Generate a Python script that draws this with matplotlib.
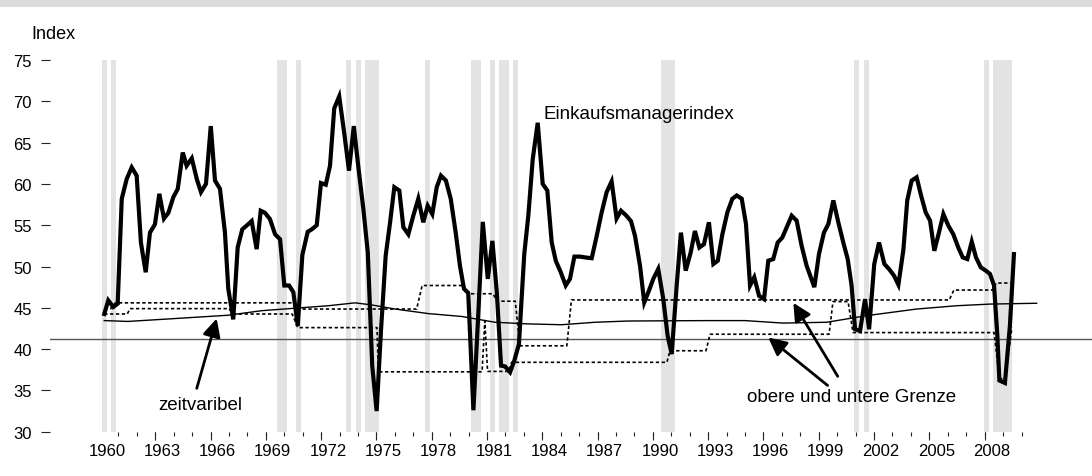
import matplotlib
matplotlib.use("Agg")
import matplotlib.pyplot as plt
from matplotlib.patches import Rectangle

plt.rcParams["font.family"] = ["Liberation Sans", "DejaVu Sans"]

# Einkaufsmanagerindex (quarterly)
pmi_t = [1959.85, 1960.07, 1960.34, 1960.58, 1960.80, 1961.07, 1961.34, 1961.61, 1961.84, 1962.10,
         1962.33, 1962.60, 1962.84, 1963.09, 1963.33, 1963.60, 1963.84, 1964.11, 1964.32, 1964.60,
         1964.87, 1965.10, 1965.37, 1965.63, 1965.86, 1966.13, 1966.40, 1966.58, 1966.85, 1967.09,
         1967.34, 1967.60, 1967.85, 1968.12, 1968.34, 1968.57, 1968.84, 1969.12, 1969.39, 1969.62,
         1969.88, 1970.11, 1970.35, 1970.60, 1970.89, 1971.11, 1971.38, 1971.61, 1971.87, 1972.10,
         1972.33, 1972.60, 1972.88, 1973.13, 1973.39, 1973.64, 1973.91, 1974.15, 1974.39, 1974.63,
         1974.87, 1975.12, 1975.36, 1975.59, 1975.86, 1976.08, 1976.35, 1976.62, 1976.89, 1977.16,
         1977.40, 1977.65, 1977.89, 1978.12, 1978.39, 1978.65, 1978.92, 1979.15, 1979.37, 1979.60,
         1979.88, 1980.15, 1980.39, 1980.66, 1980.91, 1981.15, 1981.38, 1981.60, 1981.87, 1982.10,
         1982.35, 1982.64, 1982.86, 1983.10, 1983.37, 1983.64, 1983.89, 1984.13, 1984.35, 1984.62,
         1984.89, 1985.12, 1985.36, 1985.66, 1985.94, 1986.30, 1986.57, 1986.84, 1987.11, 1987.38,
         1987.65, 1987.89, 1988.16, 1988.43, 1988.65, 1988.92, 1989.15, 1989.41, 1989.64, 1989.91,
         1990.18, 1990.42, 1990.64, 1990.91, 1991.14, 1991.40, 1991.67, 1991.90, 1992.14, 1992.39,
         1992.66, 1992.90, 1993.14, 1993.39, 1993.66, 1993.93, 1994.17, 1994.44, 1994.67, 1994.89,
         1995.12, 1995.38, 1995.65, 1995.88, 1996.15, 1996.39, 1996.64, 1996.88, 1997.15, 1997.42,
         1997.69, 1997.96, 1998.17, 1998.38, 1998.63, 1998.90, 1999.14, 1999.41, 1999.68, 1999.95,
         2000.19, 2000.40, 2000.59, 2000.86, 2001.13, 2001.35, 2001.63, 2001.89, 2002.18, 2002.43,
         2002.70, 2002.94, 2003.21, 2003.42, 2003.66, 2003.93, 2004.17, 2004.42, 2004.66, 2004.89,
         2005.14, 2005.38, 2005.65, 2005.92, 2006.19, 2006.43, 2006.68, 2006.92, 2007.15, 2007.41,
         2007.68, 2007.91, 2008.13, 2008.31, 2008.42, 2008.72, 2008.99, 2009.21]
pmi = [44.25, 45.9, 45.1, 45.5, 58.2, 60.6, 62.0, 61.0, 52.9, 49.3,
       54.1, 55.1, 58.8, 55.8, 56.5, 58.4, 59.4, 63.8, 62.2, 63.1,
       60.6, 59.0, 60.0, 67.0, 60.4, 59.4, 54.1, 47.3, 43.6, 52.3,
       54.5, 55.0, 55.5, 52.1, 56.75, 56.5, 55.75, 53.9, 53.3, 47.7,
       47.7, 46.9, 42.8, 51.4, 54.2, 54.5, 55.0, 60.1, 59.9, 62.2,
       69.15, 70.6, 66.0, 61.6, 67.0, 62.0, 56.95, 51.7, 38.0, 32.5,
       42.4, 51.3, 55.35, 59.6, 59.2, 54.75, 53.9, 56.15, 58.2, 55.35,
       57.35, 56.35, 59.6, 61.0, 60.4, 58.2, 54.1, 50.1, 47.3, 46.8,
       32.6, 44.45, 55.4, 48.5, 53.1, 46.9, 38.0, 37.9, 37.2, 38.6,
       40.6, 51.5, 56.15, 63.0, 67.4, 60.0, 59.2, 52.9, 50.7, 49.3,
       47.7, 48.5, 51.2, 51.2, 51.1, 51.0, 53.7, 56.55, 59.0, 60.3,
       55.8, 56.75, 56.2, 55.5, 53.7, 50.1, 45.65, 47.1, 48.5, 49.7,
       46.1, 41.6, 39.4, 47.7, 54.1, 49.5, 51.7, 54.3, 52.3, 52.7,
       55.35, 50.3, 50.7, 53.9, 56.55, 58.2, 58.6, 58.2, 55.15, 47.7,
       48.7, 46.45, 46.05, 50.7, 50.9, 52.9, 53.5, 54.75, 56.15, 55.55,
       52.5, 50.1, 48.8, 47.5, 51.5, 54.1, 55.15, 58.0, 55.35, 52.9,
       50.9, 47.7, 42.4, 42.2, 46.05, 42.4, 50.3, 52.9, 50.3, 49.7,
       48.9, 47.8, 52.0, 58.0, 60.4, 60.8, 58.6, 56.55, 55.55, 51.9,
       54.1, 56.35, 54.95, 53.9, 52.3, 51.1, 50.9, 53.0, 51.1, 49.9,
       49.5, 49.1, 47.7, 41.6, 36.2, 35.9, 42.8, 51.5]

# time-varying threshold
tv_t = [1959.85, 1961.14, 1962.97, 1964.77, 1966.58, 1968.39, 1970.20, 1972.01, 1973.46,
        1974.36, 1975.63, 1977.43, 1979.25, 1981.05, 1982.84, 1984.67, 1986.48, 1988.27,
        1992.45, 1994.62, 1996.68, 1999.05, 2001.22, 2003.93, 2006.10, 2007.91, 2010.44]
tv = [43.45, 43.35, 43.6, 43.85, 44.1, 44.65, 44.95, 45.25, 45.6,
      45.35, 44.85, 44.3, 43.95, 43.25, 43.05, 42.95, 43.25, 43.4,
      43.45, 43.45, 43.15, 43.25, 44.05, 44.85, 45.25, 45.45, 45.55]

# upper and lower bounds (step series)
upper_t = [1959.85, 1960.2, 1960.45, 1970.2, 1970.45, 1976.8, 1977.1, 1979.35, 1979.55, 1980.95,
           1981.15, 1982.15, 1982.4, 1984.95, 1985.2, 2005.7, 2005.95, 2008.05, 2008.25, 2009.1]
upper = [44.9, 44.9, 45.6, 45.6, 44.85, 44.85, 47.7, 47.7, 46.7, 46.7,
         45.8, 45.8, 40.4, 40.4, 45.95, 45.95, 47.15, 47.15, 48.0, 48.0]
lower_t = [1959.85, 1961.1, 1961.25, 1966.6, 1966.9, 1970.05, 1970.35, 1974.65, 1974.72, 1980.35,
           1980.5, 1980.65, 1981.8, 1981.95, 1990.38, 1990.55, 1992.5, 1992.72, 1999.18, 1999.39,
           2000.21, 2000.48, 2008.13, 2008.42, 2008.72, 2009.1]
lower = [44.25, 44.25, 44.9, 44.9, 44.25, 44.25, 42.6, 42.6, 37.25, 37.25,
         43.4, 37.3, 37.3, 38.4, 38.4, 39.8, 39.8, 41.8, 41.8, 45.75,
         45.75, 42.0, 42.0, 36.5, 36.3, 42.6]

# shaded periods
recessions = [(1959.73, 1960.0), (1960.22, 1960.49), (1969.22, 1969.77), (1970.25, 1970.53),
              (1972.97, 1973.24), (1973.51, 1973.78), (1974.0, 1974.76), (1977.25, 1977.53),
              (1979.75, 1980.29), (1980.78, 1981.06), (1981.27, 1981.81), (1982.03, 1982.30),
              (1990.06, 1990.82), (2000.53, 2000.80), (2001.07, 2001.34), (2007.59, 2007.86),
              (2008.07, 2009.10)]

threshold = 41.2
year_labels = list(range(1960, 2009, 3))
tick_years = list(range(1961, 2011))
y_ticks = list(range(30, 80, 5))

W, H = 1092, 477
fig = plt.figure(figsize=(W / 100, H / 100), dpi=100)
fig.patches.append(Rectangle((0, 1 - 8.3 / H), 1, 8.3 / H, transform=fig.transFigure,
                             color="#dcdcdc", lw=0))

ax = fig.add_axes([50 / W, 44.3 / H, 1042 / W, 371.7 / H])
ax.set_xlim(1956.907, 2013.445)
ax.set_ylim(30, 75)
for s in ax.spines.values():
    s.set_visible(False)

for a, b in recessions:
    ax.axvspan(a, b, color="#e3e3e3", lw=0, zorder=0)
ax.axhline(threshold, color="#555555", lw=1.0, zorder=1)
ax.plot(tv_t, tv, color="black", lw=1.0, zorder=2)
ax.plot(upper_t, upper, color="black", lw=1.2, ls=(0, (2, 1.5)), zorder=2)
ax.plot(lower_t, lower, color="black", lw=1.2, ls=(0, (2, 1.5)), zorder=2)
ax.plot(pmi_t, pmi, color="black", lw=3.0, solid_joinstyle="miter", zorder=3)

ax.set_yticks(y_ticks)
ax.tick_params(axis="y", length=6.2, width=0.8, pad=7, labelsize=12, color="#222222")

ax.set_xticks(year_labels)
ax.set_xticklabels([str(y) for y in year_labels])
ax.tick_params(axis="x", which="major", length=0, pad=8, labelsize=12)
ax.set_xticks([y - 0.38 for y in tick_years], minor=True)
ax.tick_params(axis="x", which="minor", length=2.9, width=0.8, color="#222222")

sec = ax.secondary_xaxis("bottom")
sec.set_xticks([y - 0.38 for y in year_labels[1:]])
sec.tick_params(length=5.8, width=0.8, labelbottom=False, color="#222222")
sec.spines["bottom"].set_visible(False)

fig.text(31 / W, 1 - 39 / H, "Index", fontsize=13, ha="left", va="baseline")
ax.text(1983.66, 67.98, "Einkaufsmanagerindex", fontsize=13.5, va="baseline")
ax.text(1962.78, 32.75, "zeitvaribel", fontsize=13.5, va="baseline")
ax.text(1994.71, 33.75, "obere und untere Grenze", fontsize=13.5, va="baseline")

arrow = dict(arrowstyle="-|>", color="black", lw=2.0, mutation_scale=27, shrinkA=0, shrinkB=0)
ax.annotate("", xy=(1965.95, 43.7), xytext=(1964.87, 35.25), arrowprops=arrow)
ax.annotate("", xy=(1995.88, 41.4), xytext=(1999.1, 35.6), arrowprops=arrow)
ax.annotate("", xy=(1997.24, 45.6), xytext=(1999.65, 36.7), arrowprops=arrow)

fig.savefig("out.png", dpi=100)
